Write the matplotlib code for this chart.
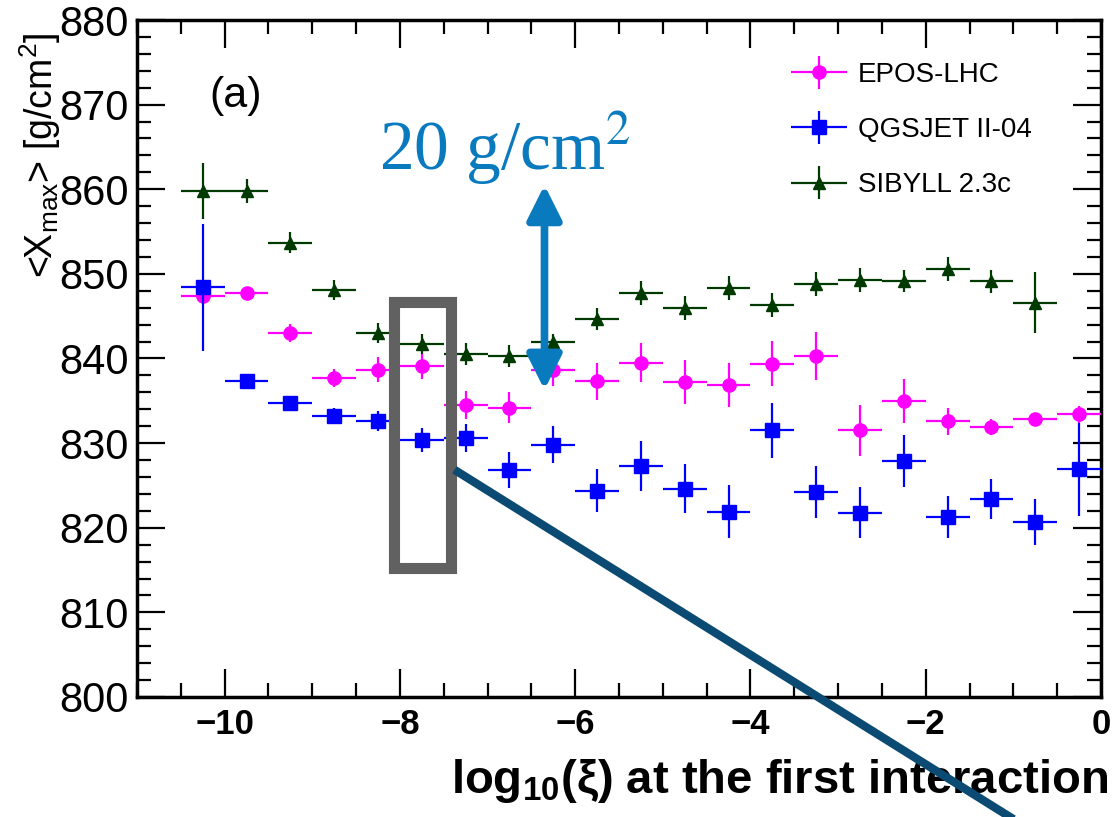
import numpy as np
import matplotlib
matplotlib.use("Agg")
import matplotlib.pyplot as plt
from matplotlib.lines import Line2D
from matplotlib.patches import Rectangle, FancyArrowPatch
from matplotlib.ticker import MultipleLocator
from matplotlib.container import ErrorbarContainer
from matplotlib.legend_handler import HandlerErrorbar

plt.rcParams['font.family'] = ['Liberation Sans', 'DejaVu Sans']
plt.rcParams['mathtext.fontset'] = 'custom'
plt.rcParams['mathtext.rm'] = 'Liberation Sans'
plt.rcParams['mathtext.it'] = 'Liberation Sans:italic'
plt.rcParams['mathtext.bf'] = 'Liberation Sans:bold'

# bin centres of log10(xi), bin width 0.5
xc = np.arange(-10.25, 0.0, 0.5)

epos = [847.4, 847.7, 843.0, 837.7, 838.7, 839.1, 834.5, 834.2, 838.7, 837.3, 839.5,
        837.2, 836.9, 839.4, 840.3, 831.5, 835.0, 832.6, 831.9, 832.9, 833.4]
epos_err = [0.4, 0.3, 1.1, 1.1, 1.5, 1.5, 1.7, 1.8, 2.0, 2.2, 2.3,
            2.6, 2.6, 2.7, 2.8, 3.0, 2.6, 1.6, 0.9, 0.3, 1.0]

qgs = [848.4, 837.4, 834.8, 833.2, 832.6, 830.4, 830.6, 826.8, 829.8, 824.4, 827.3,
       824.6, 821.9, 831.5, 824.2, 821.8, 827.9, 821.3, 823.4, 820.7, 826.9]
qgs_err = [7.5, 0.4, 0.7, 0.9, 1.2, 1.4, 1.7, 2.1, 2.2, 2.5, 2.9,
           2.9, 3.1, 3.3, 3.1, 3.0, 3.1, 2.5, 2.4, 2.7, 5.5]

# SIBYLL has no entry in the last bin
sib = [859.8, 859.8, 853.7, 848.1, 843.0, 841.7, 840.5, 840.3, 841.9, 844.7, 847.7,
       846.0, 848.3, 846.3, 848.8, 849.3, 849.1, 850.6, 849.1, 846.6]
sib_err = [3.3, 1.4, 1.2, 1.2, 1.2, 1.2, 1.3, 1.3, 1.0, 1.3, 1.4,
           1.4, 1.4, 1.4, 1.4, 1.4, 1.3, 1.4, 1.4, 3.6]

labels = ['EPOS-LHC', 'QGSJET II-04', 'SIBYLL 2.3c']
colors = ['#ff00ff', '#0000ff', '#003a00']

fig = plt.figure(figsize=(11.2, 8.17), dpi=100)
ax = fig.add_axes([0.1223, 0.1469, 0.8607, 0.8286])

ax.errorbar(xc, epos, yerr=epos_err, xerr=0.25, fmt='o', color=colors[0],
            ms=9.5, elinewidth=1.6, capsize=0, label=labels[0], zorder=3)
ax.errorbar(xc, qgs, yerr=qgs_err, xerr=0.25, fmt='s', color=colors[1],
            ms=9.5, elinewidth=1.6, capsize=0, label=labels[1], zorder=4)
ax.errorbar(xc[:len(sib)], sib, yerr=sib_err, xerr=0.25, fmt='^', color=colors[2],
            ms=9, elinewidth=1.6, capsize=0, label=labels[2], zorder=5)

ax.set_xlim(-11, 0)
ax.set_ylim(800, 880)
ax.xaxis.set_major_locator(MultipleLocator(2))
ax.xaxis.set_minor_locator(MultipleLocator(0.5))
ax.yaxis.set_major_locator(MultipleLocator(10))
ax.yaxis.set_minor_locator(MultipleLocator(2))
ax.tick_params(which='both', direction='in', top=True, right=True, width=1.6)
ax.tick_params(which='major', length=20)
ax.tick_params(which='minor', length=10)
ax.tick_params(axis='y', labelsize=30, pad=6)
ax.tick_params(axis='x', labelsize=25, pad=8)
for lab in ax.get_xticklabels():
    lab.set_fontweight('bold')
for s in ax.spines.values():
    s.set_linewidth(2.5)

ax.set_ylabel(r'<X$_{\mathregular{max}}$> [g/cm$^{\mathregular{2}}$]', fontsize=27)
ax.yaxis.set_label_coords(-0.077, 0.8)

# axis title set in figure pixels so it sits at the lower right corner
fig.text(1108 / 1120, 1 - 793 / 817,
         r'log$_{\mathbf{10}}$($\mathbf{\xi}$) at the first interaction',
         fontsize=34, fontweight='bold', ha='right', va='baseline')

ax.legend(loc='upper left', bbox_to_anchor=(0.653, 0.975), frameon=False,
          fontsize=20, handlelength=2.0, labelspacing=1.05, handletextpad=0.4,
          handler_map={ErrorbarContainer: HandlerErrorbar(xerr_size=1.0, yerr_size=0.6)})

ax.text(-9.87, 871.0, '(a)', fontsize=31, ha='center', va='center')

# scale annotation
ax.text(-8.24, 862.3, r'20 g/cm$^2$', fontsize=50, color='#0a7abf',
        family='Liberation Serif', va='baseline', math_fontfamily='stix')
arr = FancyArrowPatch((-6.35, 836.3), (-6.35, 860.5), arrowstyle='<|-|>',
                      mutation_scale=52, lw=5.5, color='#0a7abf', zorder=8,
                      shrinkA=0, shrinkB=0)
ax.add_patch(arr)

# highlighted bin
ax.add_patch(Rectangle((-8.07, 815.2), 0.65, 31.5, fill=False,
                       edgecolor='#616161', lw=8, zorder=7))

# pointer line leaving the axes
fig.add_artist(Line2D([458 / 1120, 1010 / 1120], [1 - 472 / 817, 1 - 817 / 817],
                      transform=fig.transFigure, color='#0b4a72', lw=6,
                      clip_on=False, zorder=10))

fig.savefig('out.png', dpi=100)
